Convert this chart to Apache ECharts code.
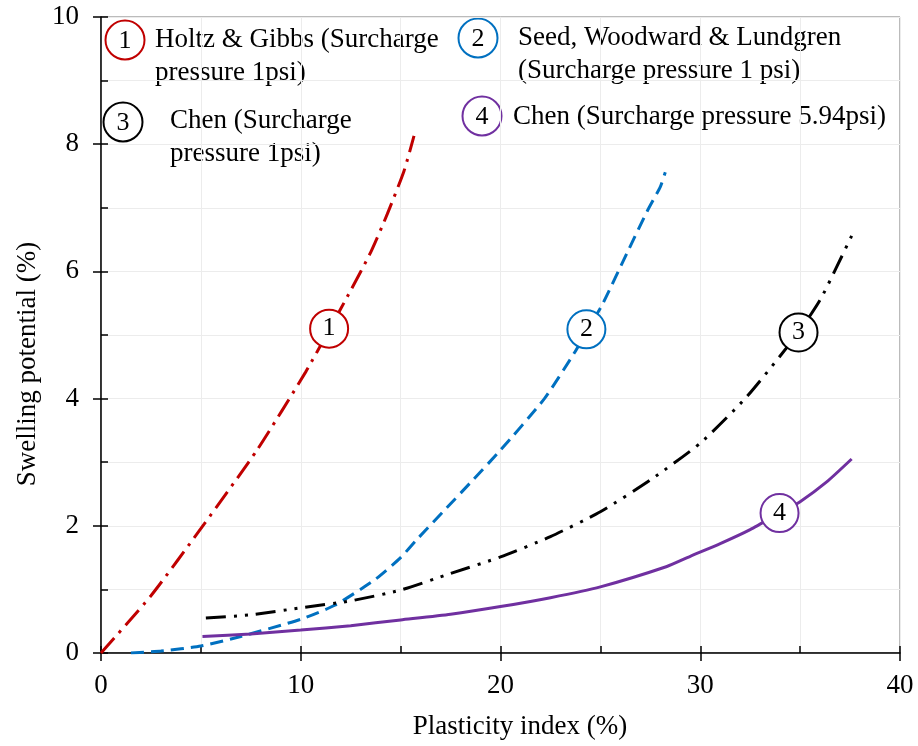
<!DOCTYPE html>
<html>
<head>
<meta charset="utf-8">
<script src="https://cdn.jsdelivr.net/npm/echarts@6/dist/echarts.min.js"></script>
<style>
  html, body { margin: 0; padding: 0; background: #fff; }
  #chart { width: 918px; height: 746px; }
</style>
</head>
<body>
<div id="chart"></div>
<script>
// Curves: [plasticity index %, swelling potential %]
const holtzGibbs = [[0, 0], [2.5, 0.9], [5.17, 2.03], [7.83, 3.2], [10.25, 4.42], [11.42, 5.08], [12.5, 5.7], [13.5, 6.3], [14.33, 6.9], [15.17, 7.58], [15.67, 8.13]];
const seedWoodward = [[1.5, 0], [3, 0.03], [5, 0.11], [7, 0.26], [10, 0.53], [11.7, 0.75], [13.7, 1.15], [15, 1.5], [15.8, 1.78], [17.3, 2.28], [18.5, 2.68], [20, 3.19], [22.2, 4.0], [23.7, 4.72], [24.3, 5.05], [25.1, 5.48], [26.35, 6.3], [27.35, 6.95], [28, 7.33], [28.25, 7.56]];
const chen1psi = [[5.25, 0.55], [7.5, 0.6], [10, 0.71], [12.5, 0.82], [15, 0.99], [17.5, 1.25], [20, 1.51], [22.5, 1.83], [25, 2.22], [27.5, 2.72], [30, 3.3], [32.33, 4.03], [34.92, 5.04], [36, 5.55], [36.83, 6.07], [37.58, 6.56]];
const chen594psi = [[5.08, 0.26], [7.5, 0.3], [10, 0.36], [12.5, 0.43], [15, 0.52], [17.5, 0.61], [20, 0.73], [22.5, 0.87], [25, 1.04], [28.33, 1.36], [29.5, 1.52], [31, 1.72], [32.5, 1.94], [33.97, 2.2], [35, 2.38], [36.33, 2.69], [37.58, 3.05]];

// circled numbers sitting on the curves
const markerPts = [[11.42, 5.1], [24.3, 5.09], [34.92, 5.04], [33.97, 2.2]];
const markerNames = ["1", "2", "3", "4"];
const colors = ["#C00000", "#0070C0", "#000000", "#7030A0"];

const xTicks = [0, 10, 20, 30, 40];
const yTicks = [0, 2, 4, 6, 8, 10];

const legendTexts = [
  ["Holtz & Gibbs (Surcharge", "pressure 1psi)"],
  ["Seed, Woodward & Lundgren", "(Surcharge pressure 1 psi)"],
  ["Chen (Surcharge", "pressure 1psi)"],
  ["Chen (Surcharge pressure 5.94psi)"],
];
const xName = "Plasticity index (%)";
const yName = "Swelling potential (%)";

const FONT = "Liberation Serif";

const chart = echarts.init(document.getElementById("chart"));

const circleLegend = (cx, cy, num, color) => ({
  type: "group",
  children: [
    { type: "circle", shape: { cx, cy, r: 19.5 }, style: { fill: "#fff", stroke: color, lineWidth: 2 } },
    { type: "text", x: cx, y: cy + 1, style: { text: num, fill: "#000", font: `26px "${FONT}"`, align: "center", verticalAlign: "middle" } },
  ],
});

const legendText = (x, y, lines) => ({
  type: "text",
  x, y,
  style: { text: lines.join("\n"), fill: "#000", font: `27px "${FONT}"`, lineHeight: 33, verticalAlign: "middle" },
});

const lineSeries = (name, data, color, dash) => ({
  name,
  type: "line",
  data,
  smooth: 0.2,
  showSymbol: false,
  z: 3,
  lineStyle: { color, width: 3, type: dash },
});

const option = {
  animation: false,
  backgroundColor: "#fff",
  textStyle: { fontFamily: FONT },
  grid: { left: 101, right: 18, top: 17, bottom: 93, show: true, borderColor: "#777", borderWidth: 1 },
  xAxis: [
    {
      type: "value",
      min: xTicks[0],
      max: xTicks[xTicks.length - 1],
      interval: 10,
      axisLine: { show: true, lineStyle: { color: "#000", width: 1.5 } },
      axisTick: { show: true, length: 8, lineStyle: { color: "#000", width: 1.5 } },
      axisLabel: { fontSize: 27, color: "#000", margin: 19, fontFamily: FONT },
      splitLine: { show: true, lineStyle: { color: "#ececec" } },
      minorSplitLine: { show: true, lineStyle: { color: "#ececec" } },
      minorTick: { show: false, splitNumber: 2 },
    },
    {
      type: "value",
      position: "bottom",
      min: xTicks[0],
      max: xTicks[xTicks.length - 1],
      interval: 5,
      axisLine: { show: false },
      axisTick: { show: true, inside: true, length: 7, lineStyle: { color: "#000", width: 1.5 } },
      axisLabel: { show: false },
      splitLine: { show: false },
    },
  ],
  yAxis: [
    {
      type: "value",
      min: yTicks[0],
      max: yTicks[yTicks.length - 1],
      interval: 2,
      axisLine: { show: true, lineStyle: { color: "#000", width: 1.5 } },
      axisTick: { show: true, length: 8, lineStyle: { color: "#000", width: 1.5 } },
      axisLabel: { fontSize: 27, color: "#000", margin: 22, fontFamily: FONT },
      splitLine: { show: true, lineStyle: { color: "#ececec" } },
      minorSplitLine: { show: true, lineStyle: { color: "#ececec" } },
      minorTick: { show: false, splitNumber: 2 },
    },
    {
      type: "value",
      position: "left",
      min: yTicks[0],
      max: yTicks[yTicks.length - 1],
      interval: 1,
      axisLine: { show: false },
      axisTick: { show: true, inside: true, length: 7, lineStyle: { color: "#000", width: 1.5 } },
      axisLabel: { show: false },
      splitLine: { show: false },
    },
  ],
  series: [
    lineSeries("Holtz & Gibbs", holtzGibbs, colors[0], [20, 7, 3, 7]),
    lineSeries("Seed, Woodward & Lundgren", seedWoodward, colors[1], [13, 7]),
    lineSeries("Chen 1psi", chen1psi, colors[2], [20, 8, 3, 8, 3, 8]),
    lineSeries("Chen 5.94psi", chen594psi, colors[3], "solid"),
    {
      type: "scatter",
      z: 5,
      symbol: "circle",
      symbolSize: 38,
      data: markerPts.map((p, i) => ({
        value: p,
        itemStyle: { color: "#fff", borderColor: colors[i], borderWidth: 2, opacity: 1 },
        label: { show: true, position: "inside", formatter: markerNames[i], color: "#000", fontSize: 26, fontFamily: FONT },
      })),
    },
  ],
  graphic: [
    circleLegend(125, 40, markerNames[0], colors[0]),
    legendText(155, 56, legendTexts[0]),
    circleLegend(478, 38, markerNames[1], colors[1]),
    legendText(518, 54, legendTexts[1]),
    circleLegend(123, 122, markerNames[2], colors[2]),
    legendText(170, 137, legendTexts[2]),
    circleLegend(482, 116, markerNames[3], colors[3]),
    legendText(513, 117, legendTexts[3]),
    // axis titles (sit off-centre in the original)
    { type: "text", x: 520, y: 727, style: { text: xName, fill: "#000", font: `27px "${FONT}"`, align: "center", verticalAlign: "middle" } },
    { type: "text", x: 28, y: 364, rotation: Math.PI / 2, style: { text: yName, fill: "#000", font: `27px "${FONT}"`, align: "center", verticalAlign: "middle" } },
  ],
};

chart.setOption(option);
</script>
</body>
</html>
